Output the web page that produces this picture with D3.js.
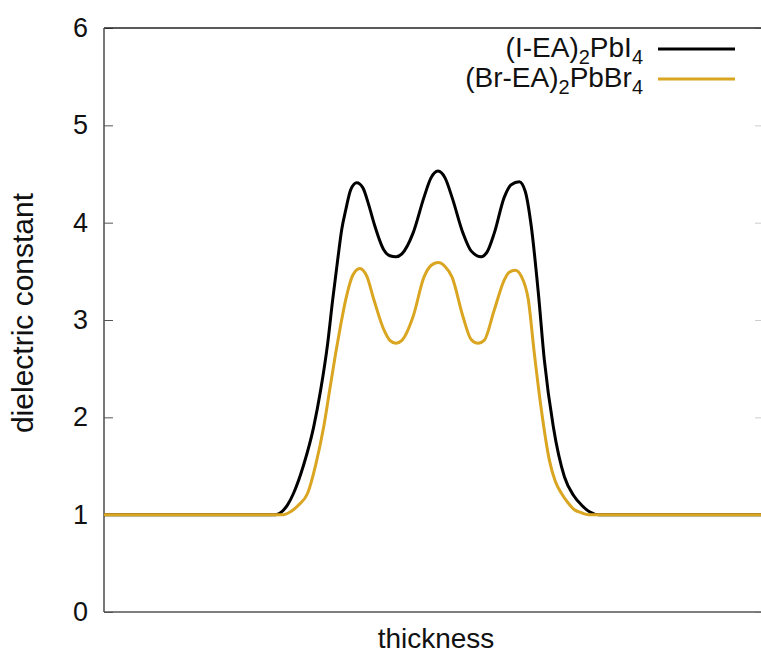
<!doctype html>
<html lang='en'>
<head>
    <meta charset='UTF-8'>
    <title>dielectric constant profile</title>
    <script src='https://cdn.jsdelivr.net/npm/d3@7/dist/d3.min.js'></script>
    <style>
        body { margin: 0; background: #fff; }
        text { font-family: 'Liberation Sans', Arial, sans-serif; }
    </style>
</head>
<body>
<div id='chart'></div>
<script>
    // thickness (arbitrary units) and dielectric constant
    var thickness_ie = [0, 15, 17.1, 17.6, 18.3, 18.9, 19.9, 20.9, 21.6, 22.3, 22.8, 23.3, 23.7, 24.1, 24.6, 25.2, 25.8, 26.4, 26.9, 27.9, 28.5, 29.1, 29.7, 30.8, 31.9, 32.6, 33.3, 34.0, 34.7, 35.8, 36.6, 37.6, 38.2, 38.9, 39.9, 40.6, 41.4, 42.0, 42.6, 43.3, 43.9, 44.8, 45.9, 46.8, 47.6, 48.4, 49.3, 52, 65.8];
    var eps_ie = [1.0, 1.0, 1.0, 1.02, 1.10, 1.22, 1.51, 1.90, 2.28, 2.76, 3.21, 3.62, 3.93, 4.13, 4.34, 4.41, 4.36, 4.18, 4.0, 3.72, 3.66, 3.65, 3.68, 3.89, 4.26, 4.46, 4.53, 4.46, 4.26, 3.89, 3.71, 3.65, 3.70, 3.89, 4.26, 4.39, 4.42, 4.32, 3.96, 3.28, 2.59, 1.90, 1.39, 1.20, 1.10, 1.03, 1.0, 1.0, 1.0];

    var thickness_br = [0, 15, 17.9, 18.6, 19.4, 20.3, 21.1, 21.9, 22.5, 23.1, 23.6, 24.1, 24.8, 25.5, 26.2, 26.9, 27.9, 28.5, 29.1, 29.7, 30.8, 31.9, 32.6, 33.3, 34.0, 34.7, 35.8, 36.6, 37.3, 37.9, 38.9, 39.9, 40.4, 41.0, 41.6, 42.3, 42.9, 43.6, 44.4, 45.0, 45.6, 46.2, 46.9, 47.6, 48.3, 52, 65.8];
    var eps_br = [1.0, 1.0, 1.0, 1.03, 1.10, 1.22, 1.51, 1.90, 2.28, 2.66, 2.95, 3.21, 3.46, 3.53, 3.45, 3.21, 2.90, 2.79, 2.76, 2.79, 3.03, 3.44, 3.56, 3.59, 3.55, 3.44, 3.03, 2.80, 2.76, 2.79, 3.10, 3.41, 3.49, 3.51, 3.45, 3.21, 2.66, 2.08, 1.56, 1.34, 1.22, 1.13, 1.05, 1.02, 1.0, 1.0, 1.0];

    var y_ticks = [0, 1, 2, 3, 4, 5, 6];

    var SIZE = { width: 761, height: 655 };
    var MARGIN = { left: 104, top: 28, right: -3, bottom: 43 };

    var svg = d3.select('#chart').append('svg')
        .attr('width', SIZE.width).attr('height', SIZE.height);

    var xScale = d3.scaleLinear()
        .domain([0, 65.8])
        .range([MARGIN.left, SIZE.width - MARGIN.right]);
    var yScale = d3.scaleLinear()
        .domain([0, 6])
        .range([SIZE.height - MARGIN.bottom, MARGIN.top]);

    // y axis with ticks pointing inward
    var yAxis = d3.axisLeft(yScale).tickValues(y_ticks).tickSize(-9).tickPadding(16).tickFormat(d3.format('d'));
    var gy = svg.append('g')
        .attr('transform', 'translate(' + MARGIN.left + ',0)')
        .call(yAxis);
    gy.select('.domain').remove();
    gy.selectAll('.tick line').attr('stroke', '#555').attr('stroke-width', 1);
    gy.selectAll('.tick text').attr('font-size', 27).attr('fill', '#111')
        .attr('font-family', "'Liberation Sans', Arial, sans-serif");

    // mirror ticks on the right side (mostly cut off by the picture edge)
    var gr = svg.append('g')
        .attr('transform', 'translate(' + (SIZE.width - MARGIN.right) + ',0)')
        .call(d3.axisRight(yScale).tickValues(y_ticks).tickSize(-9).tickFormat(''));
    gr.select('.domain').remove();
    gr.selectAll('.tick line').attr('stroke', '#ccc');

    // frame
    var x0 = xScale.range()[0], x1 = xScale.range()[1];
    var yb = yScale(0), yt = yScale(6);
    svg.append('line').attr('x1', x0).attr('x2', x1).attr('y1', yt).attr('y2', yt)
        .attr('stroke', '#222').attr('stroke-width', 1.6);
    svg.append('line').attr('x1', x0).attr('x2', x1).attr('y1', yb).attr('y2', yb)
        .attr('stroke', '#555').attr('stroke-width', 1.6);
    svg.append('line').attr('x1', x0).attr('x2', x0).attr('y1', yt).attr('y2', yb)
        .attr('stroke', '#555').attr('stroke-width', 1.6);

    // curves
    var line = d3.line()
        .x(function (d) { return xScale(d[0]); })
        .y(function (d) { return yScale(d[1]); })
        .curve(d3.curveMonotoneX);

    svg.append('path')
        .attr('d', line(d3.zip(thickness_ie, eps_ie)))
        .attr('fill', 'none').attr('stroke', '#000').attr('stroke-width', 3)
        .attr('stroke-linejoin', 'round');
    svg.append('path')
        .attr('d', line(d3.zip(thickness_br, eps_br)))
        .attr('fill', 'none').attr('stroke', '#daa520').attr('stroke-width', 3)
        .attr('stroke-linejoin', 'round');

    // axis titles
    svg.append('text')
        .attr('x', 436).attr('y', 648)
        .attr('text-anchor', 'middle').attr('font-size', 28).attr('fill', '#111')
        .text('thickness');
    svg.append('text')
        .attr('transform', 'translate(33,313)rotate(-90)')
        .attr('text-anchor', 'middle').attr('font-size', 30).attr('fill', '#111')
        .text('dielectric constant');

    // legend
    var legend = [
        { parts: [['(I-EA)', 0], ['2', 1], ['PbI', 0], ['4', 1]], color: '#000', y: 49 },
        { parts: [['(Br-EA)', 0], ['2', 1], ['PbBr', 0], ['4', 1]], color: '#daa520', y: 79 }
    ];
    legend.forEach(function (l) {
        var t = svg.append('text')
            .attr('x', 643).attr('y', l.y + 8)
            .attr('text-anchor', 'end').attr('font-size', 28).attr('fill', '#111');
        l.parts.forEach(function (p) {
            t.append('tspan')
                .attr('font-size', p[1] ? 20 : 28)
                .attr('dy', p[1] ? 7 : -7)
                .text(p[0]);
        });
        t.select('tspan').attr('dy', 0);
        svg.append('line')
            .attr('x1', 658).attr('x2', 735).attr('y1', l.y).attr('y2', l.y)
            .attr('stroke', l.color).attr('stroke-width', 3);
    });
</script>
</body>
</html>
